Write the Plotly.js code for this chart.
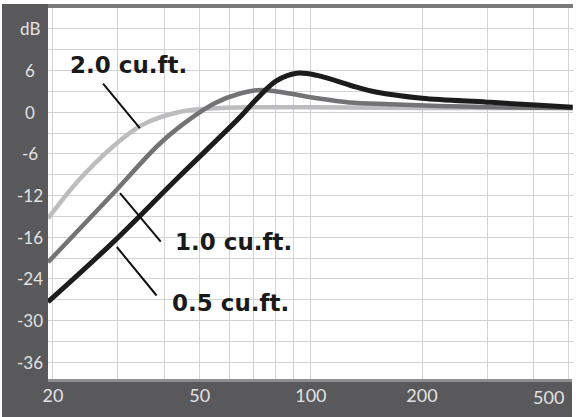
<!DOCTYPE html>
<html>
<head>
<meta charset="utf-8">
<script src="https://cdn.plot.ly/plotly-3.0.1.min.js"></script>
<style>
  html, body { margin: 0; padding: 0; background: #fff; }
  #graph { width: 576px; height: 417px; }
</style>
</head>
<body>
<div id="graph"></div>
<script>
// box volume curves (Hz, dB)
const freq05 = [19.4, 29.0, 43.7, 64.3, 71.3, 80.6, 91.5, 103.9, 133, 150, 200, 300, 417, 512]
const db05 = [-27.3, -18.8, -9.4, -0.7, 1.9, 4.5, 5.6, 5.3, 3.6, 2.9, 2.0, 1.45, 1.0, 0.7]

const freq10 = [19.4, 29.0, 39.0, 47.0, 54.9, 64.3, 73.4, 85.0, 103.9, 127, 164, 223, 323, 512]
const db10 = [-21.6, -11.8, -4.5, -1.0, 1.3, 2.7, 3.2, 2.8, 2.0, 1.4, 1.15, 0.9, 0.7, 0.6]

const freq20 = [19.4, 23.4, 29.0, 34.7, 43.7, 56.8, 100, 200, 512]
const db20 = [-15.3, -9.9, -5.0, -1.9, 0.0, 0.6, 0.7, 0.6, 0.6]

const xGridVals = [20, 30, 40, 50, 60, 70, 80, 90, 100, 200, 300, 400, 500]
const xLabelVals = [20, 50, 100, 200]
const yTickVals = [12, 6, 0, -6, -12, -18, -24, -30, -36]
const yTickText = ['dB', '6', '0', '-6', '-12', '-16', '-24', '-30', '-36']

const seriesNames = ['2.0 cu.ft.', '1.0 cu.ft.', '0.5 cu.ft.']

// plot box in pixels: x 48..573, y 8..379
const W = 525, H = 371
function px(x) { return (x - 48) / W }
function py(y) { return (379 - y) / H }

const dark = '#59595b'
const labelColor = '#e2e2e2'

function curve(x, y, color, width) {
  return {
    x: x,
    y: y,
    type: 'scatter',
    mode: 'lines',
    line: { color: color, width: width, shape: 'spline', smoothing: 1 },
    hoverinfo: 'skip'
  }
}

const traces = [
  curve(freq20, db20, '#bdbdbf', 4.5),
  curve(freq10, db10, '#737375', 4.5),
  curve(freq05, db05, '#1c1c1c', 5)
]

const shapes = [
  // dark frame left and bottom
  { type: 'rect', xref: 'paper', yref: 'paper', x0: px(2), x1: px(48), y0: py(417), y1: py(4),
    fillcolor: dark, line: { width: 0 }, layer: 'below' },
  { type: 'rect', xref: 'paper', yref: 'paper', x0: px(2), x1: px(572), y0: py(417), y1: py(379),
    fillcolor: dark, line: { width: 0 }, layer: 'below' },
  // thin strips at top and bottom of the plot box
  { type: 'rect', xref: 'paper', yref: 'paper', x0: px(48), x1: px(573), y0: py(8), y1: py(4),
    fillcolor: '#7b7b7d', line: { width: 0 } },
  { type: 'rect', xref: 'paper', yref: 'paper', x0: px(48), x1: px(572), y0: py(382), y1: py(379),
    fillcolor: '#8f8f91', line: { width: 0 } }
]

const annotations = []

// y labels, centred in the dark column
yTickVals.forEach(function (v, i) {
  annotations.push({
    xref: 'paper', yref: 'y', x: px(30), y: v,
    xanchor: 'center', yanchor: 'middle', showarrow: false,
    text: yTickText[i],
    font: { family: 'Lato, sans-serif', size: 17, color: labelColor }
  })
})

// last x label sits left of its grid line
annotations.push({
  xref: 'x', yref: 'paper', x: Math.log10(500), y: py(397),
  xanchor: 'right', yanchor: 'middle', xshift: -3, showarrow: false,
  text: '500',
  font: { family: 'Lato, sans-serif', size: 18, color: labelColor }
})

// leader lines (tip on the curve, tail toward the label)
const leaderFreq = [34.4, 30.4, 29.8]
const leaderDb = [-2.3, -11.65, -19.4]
const leaderOffset = [[-38, -46], [42, 50], [41, 50]]
const labelPos = [[68, 65], [173, 242], [170, 303]]

seriesNames.forEach(function (name, i) {
  annotations.push({
    xref: 'x', yref: 'y', x: Math.log10(leaderFreq[i]), y: leaderDb[i],
    ax: leaderOffset[i][0], ay: leaderOffset[i][1],
    text: '', showarrow: true, arrowhead: 0, arrowwidth: 2, arrowcolor: '#111'
  })
  annotations.push({
    xref: 'paper', yref: 'paper', x: px(labelPos[i][0]), y: py(labelPos[i][1]),
    xanchor: 'left', yanchor: 'middle', showarrow: false,
    text: '<b>' + name + '</b>',
    font: { family: 'DejaVu Sans, sans-serif', size: 23, color: '#1a1a1a' }
  })
})

const layout = {
  width: 576,
  height: 417,
  margin: { l: 48, r: 3, t: 8, b: 38, pad: 0 },
  paper_bgcolor: '#ffffff',
  plot_bgcolor: '#ffffff',
  showlegend: false,
  xaxis: {
    type: 'log',
    range: [Math.log10(19.4), Math.log10(513)],
    tickvals: xGridVals,
    ticktext: xGridVals.map(function (v) { return xLabelVals.indexOf(v) >= 0 ? String(v) : '' }),
    ticks: '',
    ticklabelstandoff: 4,
    tickfont: { family: 'Lato, sans-serif', size: 18, color: labelColor },
    gridcolor: '#d3d3d3',
    gridwidth: 1,
    showline: false,
    zeroline: false,
    fixedrange: true
  },
  yaxis: {
    range: [-38.4, 15],
    tickvals: yTickVals,
    showticklabels: false,
    ticks: '',
    gridcolor: '#d3d3d3',
    gridwidth: 1,
    minor: { dtick: 3, tick0: 0, showgrid: true, gridcolor: '#d3d3d3', gridwidth: 1 },
    showline: false,
    zeroline: false,
    fixedrange: true
  },
  shapes: shapes,
  annotations: annotations
}

Plotly.newPlot('graph', traces, layout, { staticPlot: true, displayModeBar: false })
</script>
</body>
</html>
